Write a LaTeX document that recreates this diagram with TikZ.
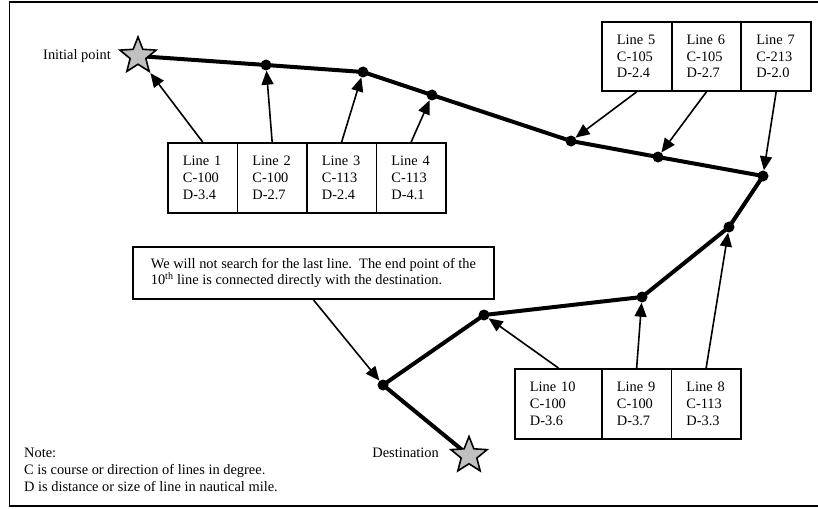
\documentclass[tikz,border=0pt]{standalone}
\usepackage{fontspec}
\setmainfont{Liberation Serif}
\usetikzlibrary{shapes.geometric,arrows.meta,backgrounds}

\definecolor{stargray}{HTML}{C0C0C0}

\begin{document}
\begin{tikzpicture}[x=1pt,y=-1pt,
  txt/.style={font=\fontsize{14.4}{16.7}\selectfont},
  cell/.style={draw,line width=1.8pt,txt,align=left,anchor=north west,
    inner xsep=15pt,inner ysep=0pt,text width=#1,minimum height=70pt},
  dot/.style={circle,fill=black,inner sep=0pt,minimum size=11pt},
  waypoint/.style={star,star points=5,star point ratio=2.3,draw,fill=stargray,
    line width=1.6pt,minimum size=38pt,inner sep=0pt},
  route/.style={line width=4pt,line join=round},
  conn/.style={line width=1.6pt,-{Triangle[length=14pt,width=12pt]}},
  label/.style={txt,inner sep=0pt}]

\useasboundingbox (0,0) rectangle (818,508);

% outer frame (open on the right)
\draw[line width=1.5pt] (830,2) -- (9.5,2) -- (9.5,506) -- (830,506);

% start and end of the voyage
\node[waypoint] (init) at (138,56) {};
\node[waypoint] (dest) at (469,455.5) {};
\node[label,anchor=base east] (initlbl) at (111,60) {Initial point};
\node[label,anchor=base east] (destlbl) at (439,457) {Destination};

% turning points
\node[dot] (p1)  at (266,65) {};
\node[dot] (p2)  at (363,72) {};
\node[dot] (p3)  at (432,95) {};
\node[dot] (p4)  at (571,141) {};
\node[dot] (p5)  at (658,157) {};
\node[dot] (p6)  at (763,176) {};
\node[dot] (p7)  at (729,227) {};
\node[dot] (p8)  at (642,297) {};
\node[dot] (p9)  at (484,315) {};
\node[dot] (p10) at (383,385) {};

% the course lines
\begin{scope}[on background layer]
\draw[route] (init.center) -- (p1.center) -- (p2.center) -- (p3.center)
  -- (p4.center) -- (p5.center) -- (p6.center) -- (p7.center)
  -- (p8.center) -- (p9.center) -- (p10.center) -- (dest.center);
\end{scope}

% line data: lines 1-4
\node[cell=39.5pt] (b1) at (167,142) {Line 1\\C-100\\D-3.4};
\node[cell=39.5pt] (b2) at (236.5,142) {Line 2\\C-100\\D-2.7};
\node[cell=39.5pt] (b3) at (306,142) {Line 3\\C-113\\D-2.4};
\node[cell=39.5pt] (b4) at (375.5,142) {Line 4\\C-113\\D-4.1};

% lines 5-7
\node[cell=39.7pt,minimum height=69pt] (b5) at (601,21) {Line 5\\C-105\\D-2.4};
\node[cell=39.7pt,minimum height=69pt] (b6) at (670.7,21) {Line 6\\C-105\\D-2.7};
\node[cell=39.7pt,minimum height=69pt] (b7) at (740.4,21) {Line 7\\C-213\\D-2.0};

% lines 8-10
\node[cell=57pt] (b10) at (514,368) {Line 10\\C-100\\D-3.6};
\node[cell=39.5pt] (b9) at (601,368) {Line 9\\C-100\\D-3.7};
\node[cell=39.5pt] (b8) at (670.5,368) {Line 8\\C-113\\D-3.3};

% remark on the last line
\node[draw,line width=1.8pt,txt,align=left,anchor=north west,inner sep=0pt,
  minimum width=361pt,minimum height=52pt] (remark) at (132,246)
  {We will not search for the last line.\ \ The end point of the\\
   10\textsuperscript{th} line is connected directly with the destination.};

% legend (base anchor sits on the last line)
\node[label,align=left,anchor=base west,font=\fontsize{14.4}{17.3}\selectfont] (note) at (24,491.6)
  {Note:\\C is course or direction of lines in degree.\\D is distance or size of line in nautical mile.};

% pointers from the data to the lines
\draw[conn] (b1.north) -- (init.-54);
\draw[conn] (b2.north) -- (p1);
\draw[conn] (b3.north) -- (p2);
\draw[conn] (b4.north) -- (p3);
\draw[conn] (b5.south) -- (p4);
\draw[conn] (b6.south) -- (p5);
\draw[conn] (b7.south) -- (p6);
\draw[conn] (b8.north) -- (p7);
\draw[conn] (b9.north) -- (p8);
\draw[conn] (b10.north) -- (p9);
\draw[conn] (remark.south) -- (p10);

\end{tikzpicture}
\end{document}
